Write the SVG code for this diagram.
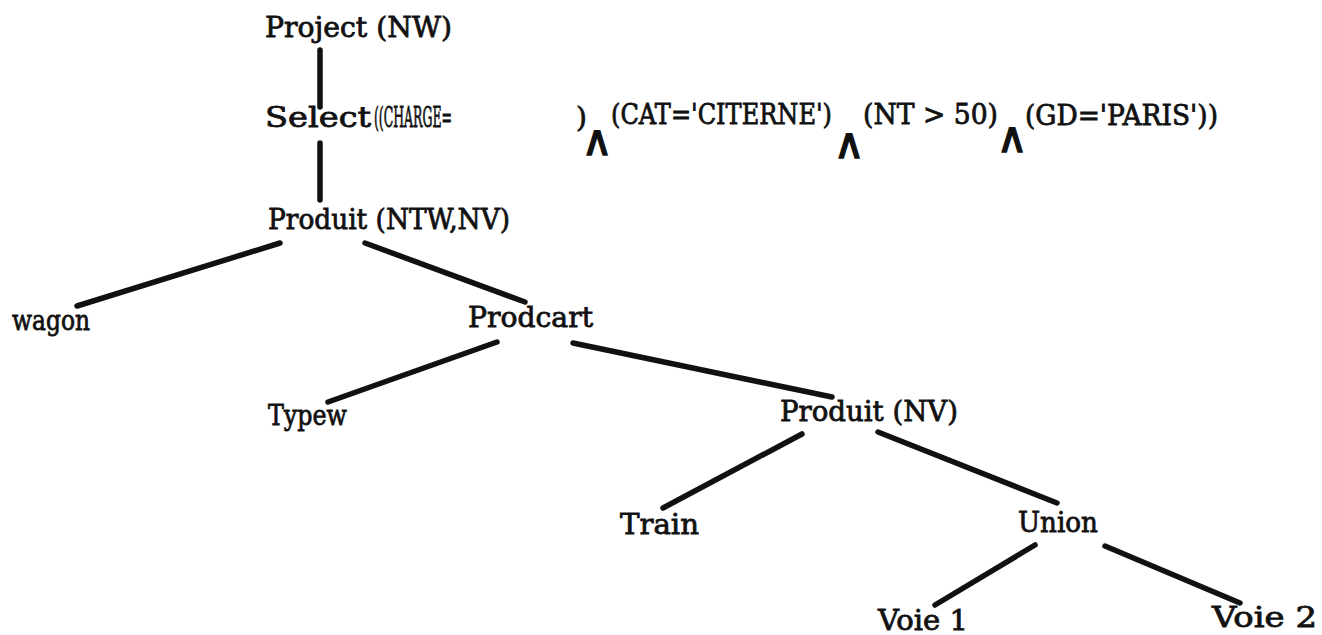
<svg xmlns="http://www.w3.org/2000/svg" width="1322" height="635" viewBox="0 0 1322 635">
<style>
.t{font-family:"DejaVu Serif","Liberation Serif",serif;font-size:28px;fill:#111;stroke:#111;stroke-width:0.8}
.and{font-family:"DejaVu Sans","Liberation Sans",sans-serif;font-size:42px;fill:#111;stroke:#111;stroke-width:1.5;text-anchor:middle}
.e{stroke:#111;stroke-width:5.5;stroke-linecap:round;fill:none}
</style>
<rect width="1322" height="635" fill="#fff"/>
<g id="connectors">
<line class="e" x1="320" y1="50" x2="320" y2="107"/>
<line class="e" x1="320" y1="143" x2="320" y2="200"/>
<line class="e" x1="280" y1="243" x2="77" y2="306"/>
<line class="e" x1="365" y1="243" x2="525" y2="302"/>
<line class="e" x1="497" y1="342" x2="328" y2="402"/>
<line class="e" x1="573" y1="343" x2="832" y2="397"/>
<line class="e" x1="802" y1="434" x2="663" y2="508"/>
<line class="e" x1="878" y1="432" x2="1057" y2="503"/>
<line class="e" x1="1035" y1="545" x2="935" y2="605"/>
<line class="e" x1="1105" y1="546" x2="1240" y2="603"/>
</g>
<g id="project"><text class="t" x="265" y="37" textLength="187" lengthAdjust="spacingAndGlyphs">Project (NW)</text></g>
<g id="select">
<text class="t" x="265" y="127" textLength="106" lengthAdjust="spacingAndGlyphs">Select</text>
<text class="t" x="374" y="127" textLength="78" lengthAdjust="spacingAndGlyphs">((CHARGE=</text>
<text class="t" x="576" y="127">)</text>
<text class="and" x="597" y="155">∧</text>
<text class="t" x="611" y="124" textLength="221" lengthAdjust="spacingAndGlyphs">(CAT='CITERNE')</text>
<text class="and" x="849" y="158">∧</text>
<text class="t" x="863" y="124" textLength="135" lengthAdjust="spacingAndGlyphs">(NT &gt; 50)</text>
<text class="and" x="1012" y="152">∧</text>
<text class="t" x="1025" y="125" textLength="193" lengthAdjust="spacingAndGlyphs">(GD='PARIS'))</text>
</g>
<g id="produit1"><text class="t" x="268" y="229" textLength="242" lengthAdjust="spacingAndGlyphs">Produit (NTW,NV)</text></g>
<g id="wagon"><text class="t" x="12" y="330" textLength="78" lengthAdjust="spacingAndGlyphs">wagon</text></g>
<g id="prodcart"><text class="t" x="468" y="327" textLength="125" lengthAdjust="spacingAndGlyphs">Prodcart</text></g>
<g id="typew"><text class="t" x="268" y="425" textLength="79" lengthAdjust="spacingAndGlyphs">Typew</text></g>
<g id="produit2"><text class="t" x="780" y="421" textLength="178" lengthAdjust="spacingAndGlyphs">Produit (NV)</text></g>
<g id="train"><text class="t" x="620" y="534" textLength="79" lengthAdjust="spacingAndGlyphs">Train</text></g>
<g id="union"><text class="t" x="1018" y="532" textLength="80" lengthAdjust="spacingAndGlyphs">Union</text></g>
<g id="voie1"><text class="t" x="878" y="630" textLength="90" lengthAdjust="spacingAndGlyphs">Voie 1</text></g>
<g id="voie2"><text class="t" x="1212" y="627" textLength="105" lengthAdjust="spacingAndGlyphs">Voie 2</text></g>
</svg>
